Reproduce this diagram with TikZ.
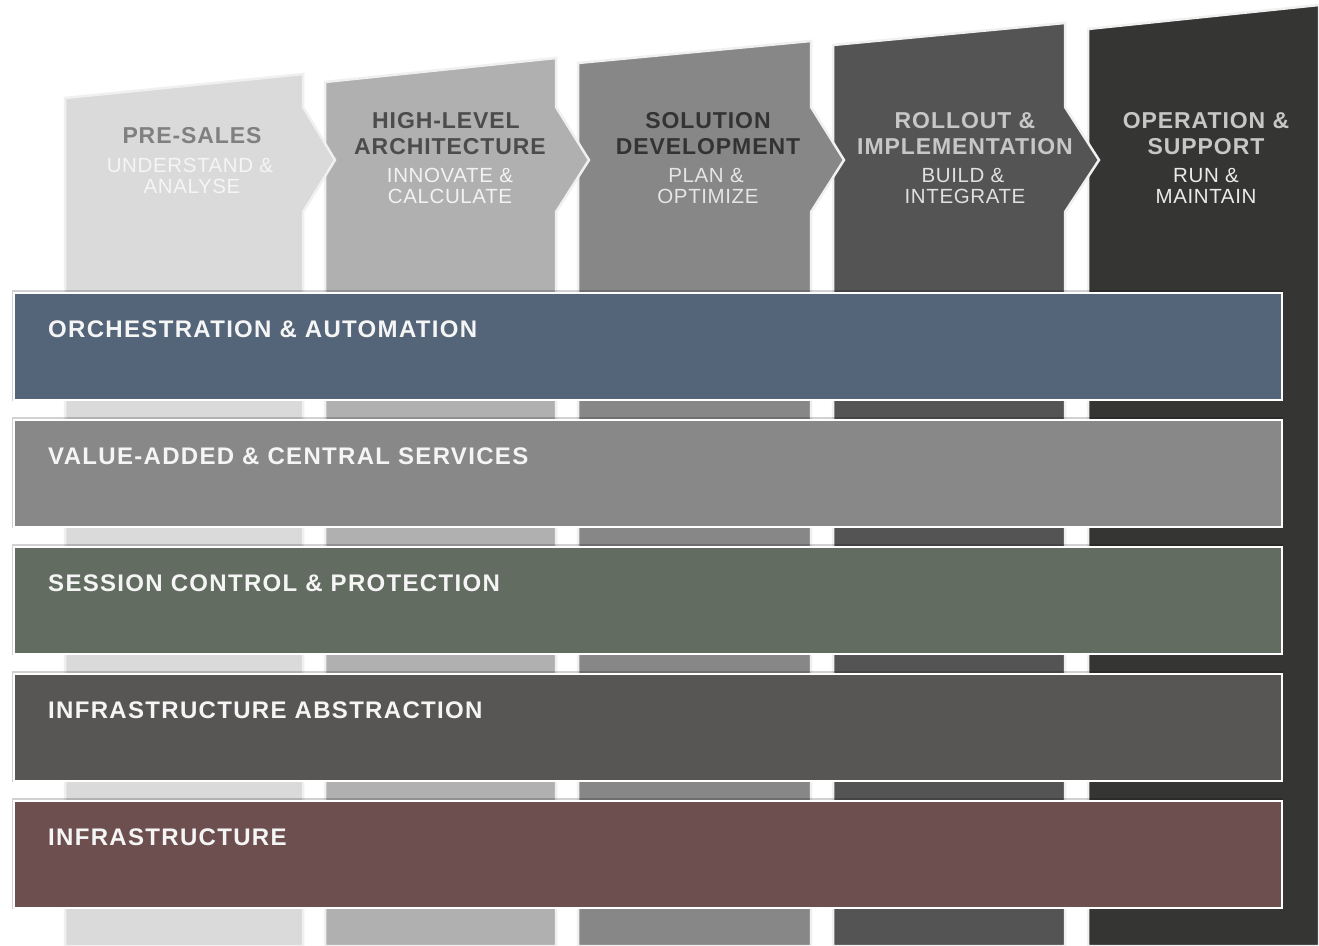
\documentclass[tikz,border=0pt]{standalone}
\usepackage{fontspec}
\setmainfont{Liberation Sans}
\definecolor{cA}{HTML}{DADADA}
\definecolor{cB}{HTML}{B0B0B0}
\definecolor{cC}{HTML}{878787}
\definecolor{cD}{HTML}{545454}
\definecolor{cE}{HTML}{353533}
\definecolor{barA}{HTML}{546479}
\definecolor{barB}{HTML}{878887}
\definecolor{barC}{HTML}{626C60}
\definecolor{barD}{HTML}{575655}
\definecolor{barE}{HTML}{6E4F50}
\begin{document}
\begin{tikzpicture}[x=1pt,y=1pt,
  colshape/.style={draw=white!94!black, line width=2.5pt, line join=miter},
  ttl/.style={anchor=base, inner sep=0pt, font=\fontsize{23}{26}\selectfont\bfseries\addfontfeature{LetterSpace=4}},
  sub/.style={anchor=base, inner sep=0pt, font=\fontsize{20.5}{21}\selectfont\addfontfeature{LetterSpace=3}},
  bar/.style={anchor=north west, minimum width=1268pt, minimum height=107pt, inner sep=0pt, draw=white, line width=2.2pt},
  barshadow/.style={fill=black, opacity=0.18},
  bartext/.style={anchor=base west, inner sep=0pt, text=white!96!black, font=\fontsize{24}{26}\selectfont\bfseries\addfontfeature{LetterSpace=5.5}}]
\useasboundingbox (0,0) rectangle (1319,-945);
\fill[white] (0,0) rectangle (1319,-945);
% columns (right to left so each arrow tip lies over the next column)
\draw[colshape, fill=cE] (1088,-29) -- (1319,-5) -- (1319,-946) -- (1088,-946) -- cycle;
\draw[colshape, fill=cD] (833,-45) -- (1065,-23) -- (1065,-107) -- (1099,-160) -- (1065,-212) -- (1065,-946) -- (833,-946) -- cycle;
\draw[colshape, fill=cC] (578,-63) -- (811,-41) -- (811,-107) -- (844,-160) -- (811,-212) -- (811,-946) -- (578,-946) -- cycle;
\draw[colshape, fill=cB] (325,-82) -- (556,-58) -- (556,-107) -- (589,-160) -- (556,-212) -- (556,-946) -- (325,-946) -- cycle;
\draw[colshape, fill=cA] (65,-98) -- (303,-74) -- (303,-107) -- (335,-160) -- (303,-212) -- (303,-946) -- (65,-946) -- cycle;
% column headings
\node[ttl, text=black!50] (t1) at (192,-143) {PRE-SALES};
\node[sub, text=white!96!black] (s1a) at (190,-172) {UNDERSTAND \&};
\node[sub, text=white!96!black] (s1b) at (192,-193) {ANALYSE};
\node[ttl, text=black!70] (t2a) at (446,-128) {HIGH-LEVEL};
\node[ttl, text=black!70] (t2b) at (450,-154) {ARCHITECTURE};
\node[sub, text=white!95!black] (s2a) at (450,-182) {INNOVATE \&};
\node[sub, text=white!95!black] (s2b) at (450,-203) {CALCULATE};
\node[ttl, text=black!80] (t3a) at (708,-128) {SOLUTION};
\node[ttl, text=black!80] (t3b) at (708,-154) {DEVELOPMENT};
\node[sub, text=white!90!black] (s3a) at (706,-182) {PLAN \&};
\node[sub, text=white!90!black] (s3b) at (708,-203) {OPTIMIZE};
\node[ttl, text=black!22] (t4a) at (965,-128) {ROLLOUT \&};
\node[ttl, text=black!22] (t4b) at (965,-154) {IMPLEMENTATION};
\node[sub, text=black!12] (s4a) at (963,-182) {BUILD \&};
\node[sub, text=black!12] (s4b) at (965,-203) {INTEGRATE};
\node[ttl, text=black!22] (t5a) at (1206,-128) {OPERATION \&};
\node[ttl, text=black!22] (t5b) at (1206,-154) {SUPPORT};
\node[sub, text=black!8] (s5a) at (1206,-182) {RUN \&};
\node[sub, text=black!8] (s5b) at (1206,-203) {MAINTAIN};
% layer bars
\foreach \y/\c/\n in {292/barA/b1, 419/barB/b2, 546/barC/b3, 673/barD/b4, 800/barE/b5}{
  \fill[barshadow] (12,-\y+2) rectangle (1283,-\y-109);
  \node[bar, fill=\c] (\n) at (13,-\y) {};
}
\node[bartext] (l1) at (48,-337.5) {ORCHESTRATION \& AUTOMATION};
\node[bartext] (l2) at (48,-464.5) {VALUE-ADDED \& CENTRAL SERVICES};
\node[bartext] (l3) at (48,-591.5) {SESSION CONTROL \& PROTECTION};
\node[bartext] (l4) at (48,-718.5) {INFRASTRUCTURE ABSTRACTION};
\node[bartext] (l5) at (48,-845.5) {INFRASTRUCTURE};
\end{tikzpicture}
\end{document}
